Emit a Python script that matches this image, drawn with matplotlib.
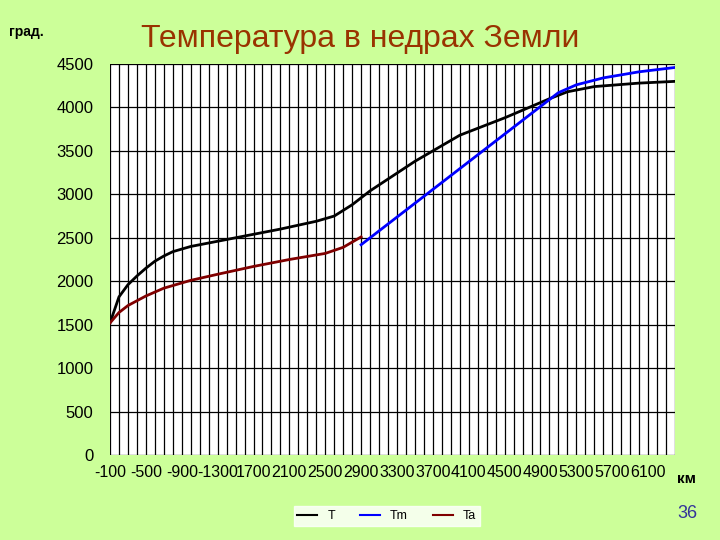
import numpy as np
import matplotlib
matplotlib.use("Agg")
import matplotlib.pyplot as plt

# depth, km / temperature, grad
t_depth = [100, 200, 300, 400, 500, 600, 700, 800, 1000, 1200, 1500, 2000, 2400, 2600, 2800,
           3000, 3500, 4000, 4500, 5000, 5200, 5500, 6000, 6400]
t_val = [1520, 1820, 1960, 2060, 2150, 2230, 2290, 2340, 2400, 2440, 2500, 2600, 2690, 2750, 2880,
         3040, 3380, 3680, 3880, 4100, 4180, 4240, 4280, 4300]

tm_depth = [2900, 5100, 5300, 5600, 6000, 6400]
tm_val = [2420, 4170, 4260, 4340, 4410, 4460]

ta_depth = [100, 200, 300, 500, 700, 1000, 1300, 1700, 2100, 2500, 2700, 2900]
ta_val = [1520, 1640, 1720, 1830, 1920, 2010, 2080, 2170, 2250, 2320, 2390, 2510]

x_labels = ["-100", "-500", "-900", "-1300", "1700", "2100", "2500", "2900", "3300",
            "3700", "4100", "4500", "4900", "5300", "5700", "6100"]
x_label_pos = [100 + 400 * i for i in range(len(x_labels))]

plt.rcParams["font.family"] = ["Liberation Sans", "DejaVu Sans"]
bg = "#CCFF99"

fig = plt.figure(figsize=(7.2, 5.4), dpi=100, facecolor=bg)
ax = fig.add_axes([0.1528, 0.1574, 0.7847, 0.7241])
ax.set_facecolor("white")

# vertical grid each 100 km, horizontal each 500
for xv in range(100, 6401, 100):
    ax.axvline(xv, color="black", lw=0.9, zorder=1)
for yv in range(0, 4501, 500):
    ax.axhline(yv, color="black", lw=0.9, zorder=1)

ax.plot(t_depth, t_val, color="black", lw=2, label="T", zorder=3)
ax.plot(tm_depth, tm_val, color="#0000FF", lw=2, label="Tm", zorder=3)
ax.plot(ta_depth, ta_val, color="#800000", lw=2, label="Ta", zorder=3)

ax.set_xlim(100, 6400)
ax.set_ylim(0, 4500)
ax.set_yticks(range(0, 4501, 500))
ax.set_xticks(x_label_pos)
ax.set_xticklabels(x_labels, fontsize=11.5)
ax.tick_params(axis="y", labelsize=12, length=0, pad=12)
ax.tick_params(axis="x", length=0, pad=7)
for s in ax.spines.values():
    s.set_visible(False)

leg = ax.legend(loc="upper center", bbox_to_anchor=(0.49, -0.115), ncol=3, fontsize=9,
                frameon=True, fancybox=False, edgecolor="white", handlelength=1.6,
                columnspacing=2.0, borderpad=0.3)
for line in leg.get_lines():
    line.set_linewidth(1.5)

fig.text(0.5, 0.927, "Температура в недрах Земли", ha="center", va="center",
         fontsize=23, color="#993300")
fig.text(0.012, 0.94, "град.", ha="left", va="center", fontsize=10, fontweight="bold")
fig.text(0.94, 0.113, "км", ha="left", va="center", fontsize=11, fontweight="bold")
fig.text(0.955, 0.05, "36", ha="center", va="center", fontsize=13, color="#333399")

fig.savefig("out.png", dpi=100, facecolor=bg)
